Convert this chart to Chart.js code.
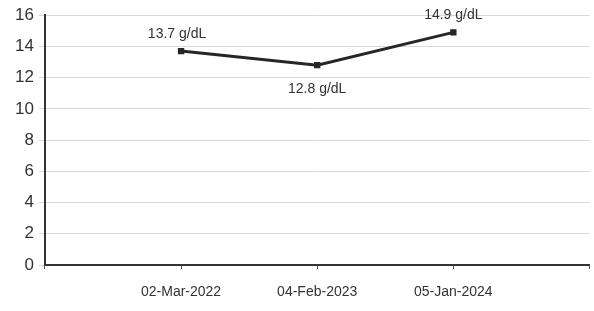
<!DOCTYPE html>
<html>
<head>
<meta charset="utf-8">
<script src="https://cdn.jsdelivr.net/npm/chart.js@4/dist/chart.umd.min.js"></script>
<style>
html,body{margin:0;padding:0;background:#fff;overflow:hidden;}
canvas{display:block;}
</style>
</head>
<body>
<canvas id="c" width="594" height="311"></canvas>
<script>
const categories = ['', '02-Mar-2022', '04-Feb-2023', '05-Jan-2024', ''];
const hemoglobin = [null, 13.7, 12.8, 14.9, null];
const valueLabels = ['', '13.7 g/dL', '12.8 g/dL', '14.9 g/dL', ''];
const labelSides = ['', 'above', 'below', 'above', ''];
const yTicks = [0, 2, 4, 6, 8, 10, 12, 14, 16];

const labelPlugin = {
  id: 'valueLabels',
  afterDatasetsDraw(chart) {
    const ctx = chart.ctx;
    const meta = chart.getDatasetMeta(0);
    ctx.save();
    ctx.font = '14px "Liberation Sans", Arial, sans-serif';
    ctx.fillStyle = '#333';
    ctx.textAlign = 'center';
    ctx.textBaseline = 'middle';
    meta.data.forEach((pt, i) => {
      if (hemoglobin[i] === null) return;
      const dy = labelSides[i] === 'above' ? -17 : 24;
      ctx.fillText(valueLabels[i], pt.x - (i === 1 ? 4 : 0), pt.y + dy);
    });
    ctx.restore();
  }
};

new Chart(document.getElementById('c'), {
  type: 'line',
  data: {
    labels: categories,
    datasets: [{
      data: hemoglobin,
      borderColor: '#262626',
      backgroundColor: '#262626',
      borderWidth: 3,
      pointStyle: 'rect',
      pointRadius: 4.5,
      pointBorderWidth: 0,
      spanGaps: false,
      tension: 0
    }]
  },
  options: {
    responsive: false,
    animation: false,
    layout: { padding: { top: 4, right: -8, left: 10, bottom: 0 } },
    plugins: { legend: { display: false }, tooltip: { enabled: false } },
    scales: {
      x: {
        offset: false,
        afterFit(scale) { scale.height = 46; scale.paddingRight = 0; scale.paddingLeft = 0; },
        grid: { display: true, drawOnChartArea: false, color: '#555', tickLength: 4 },
        border: { display: true, color: '#333', width: 2 },
        ticks: {
          font: { size: 14, family: '"Liberation Sans", Arial, sans-serif' },
          color: '#333',
          maxRotation: 0,
          autoSkip: false,
          padding: 15
        }
      },
      y: {
        min: 0,
        max: 16,
        afterBuildTicks(scale) { scale.ticks = yTicks.map(v => ({ value: v })); },
        grid: { color: '#d8d8d8', tickLength: 6, lineWidth: 1 },
        border: { display: true, color: '#333', width: 2 },
        ticks: {
          font: { size: 17, family: '"Liberation Sans", Arial, sans-serif' },
          color: '#333',
          padding: 5
        }
      }
    }
  },
  plugins: [labelPlugin]
});
</script>
</body>
</html>
